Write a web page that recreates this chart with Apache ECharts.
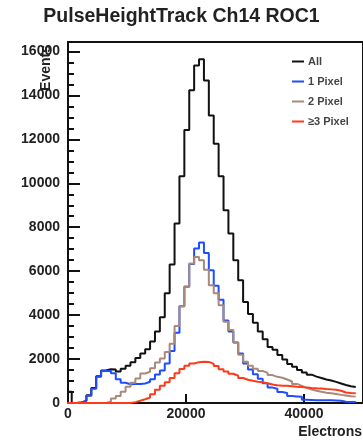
<!DOCTYPE html>
<html><head><meta charset="utf-8">
<script src="https://cdn.jsdelivr.net/npm/echarts@6/dist/echarts.min.js"></script>
<style>html,body{margin:0;padding:0;background:#fff;}#c{width:363px;height:441px;}</style>
</head><body><div id="c"></div>
<script>
// ---- data ----
const titleText = 'PulseHeightTrack Ch14 ROC1';
const xTitle = 'Electrons';
const yTitle = 'Events';
const seriesNames = ['All', '1 Pixel', '2 Pixel', '\u22653 Pixel'];
const binStart = -200;      // electrons, left edge of first bin
const binWidth = 830;       // electrons per bin
const xMin = 0, xMax = 50000, xStep = 20000;
const yMin = 0, yMax = 16430, yStep = 2000, yMinorStep = 500;

const allCounts = [510, 0, 20, 110, 350, 680, 1220, 1480, 1540, 1530,
  1430, 1560, 1700, 1850, 2050, 2250, 2450, 2800, 3250, 3900,
  5000, 6300, 8170, 10320, 12420, 14230, 15360, 15650, 14680, 13090,
  11800, 10320, 8770, 7710, 6500, 5590, 4600, 4050, 3650, 3250,
  2900, 2550, 2420, 2180, 1980, 1780, 1650, 1500, 1390, 1290,
  1200, 1140, 1070, 1020, 960, 890, 820, 760, 730];
const onePixel = [0, 0, 20, 90, 330, 650, 1200, 1460, 1460, 1350,
  1080, 920, 850, 860, 870, 890, 970, 1080, 1300, 1480,
  1800, 2370, 3200, 4400, 5290, 6330, 7030, 7300, 6830, 6045,
  5340, 4700, 3750, 3250, 2750, 2250, 1800, 1520, 1310, 1100,
  900, 700, 650, 500, 460, 320, 300, 280, 150, 140,
  130, 130, 120, 120, 110, 100, 60, 50, 40];
const twoPixel = [0, 0, 0, 0, 0, 0, 0, 0, 60, 200,
  320, 515, 740, 920, 1120, 1340, 1420, 1576, 1840, 2030,
  2320, 2700, 3500, 4400, 5300, 6350, 6650, 6500, 6060, 5360,
  4990, 4450, 3700, 3320, 2750, 2200, 1880, 1700, 1560, 1460,
  1370, 1270, 1190, 1150, 1070, 980, 870, 780, 690, 610,
  560, 510, 470, 440, 410, 370, 340, 310, 290];
const threePixel = [0, 0, 0, 0, 0, 0, 0, 0, 0, 0,
  0, 0, 0, 40, 100, 170, 250, 400, 600, 780,
  950, 1140, 1350, 1550, 1700, 1800, 1860, 1880, 1870, 1780,
  1680, 1540, 1430, 1330, 1240, 1140, 1060, 1010, 970, 940,
  900, 840, 810, 790, 780, 760, 740, 730, 700, 680,
  670, 665, 640, 620, 600, 560, 480, 450, 440];

const colors = ['#111111', '#1f4cff', '#a8897a', '#ff3a1a'];
const font = '"Liberation Sans", Arial, Helvetica, sans-serif';

function toSteps(counts) {
  const pts = counts.map((v, i) => [binStart + i * binWidth, v]);
  pts.push([binStart + counts.length * binWidth, counts[counts.length - 1]]);
  return pts;
}
const plain = v => String(Math.round(v));
const dataSets = [allCounts, onePixel, twoPixel, threePixel];

const chart = echarts.init(document.getElementById('c'), null, {renderer: 'canvas'});
chart.setOption({
  animation: false,
  backgroundColor: '#ffffff',
  title: {
    text: titleText, left: 'center', top: 7, padding: 0,
    textStyle: {fontFamily: font, fontWeight: 'bold', fontSize: 19.5, color: '#222'}
  },
  legend: {
    orient: 'vertical', left: 292, top: 56, itemGap: 9, padding: 0,
    itemWidth: 12, itemHeight: 2, icon: 'rect',
    textStyle: {fontFamily: font, fontWeight: 'bold', fontSize: 11, color: '#444', padding: [0, 0, 0, -1]},
    data: seriesNames
  },
  grid: {
    left: 68, top: 42, bottom: 38, right: -11,
    show: true, borderColor: '#111', borderWidth: 2, backgroundColor: 'transparent'
  },
  xAxis: {
    type: 'value', min: xMin, max: xMax, interval: xStep,
    axisLine: {show: true, onZero: false, lineStyle: {color: '#111', width: 2}},
    axisTick: {show: true, inside: true, length: 9, lineStyle: {color: '#111', width: 2}},
    axisLabel: {fontFamily: font, fontWeight: 'bold', fontSize: 14, color: '#222', margin: 4,
      showMaxLabel: false, formatter: plain},
    splitLine: {show: false}
  },
  yAxis: [{
    type: 'value', min: yMin, max: yMax, interval: yStep, position: 'left',
    axisLine: {show: true, onZero: false, lineStyle: {color: '#111', width: 2}},
    axisTick: {show: true, inside: true, length: 12, lineStyle: {color: '#111', width: 2}},
    axisLabel: {fontFamily: font, fontWeight: 'bold', fontSize: 14, color: '#222', margin: 8,
      showMaxLabel: false, formatter: plain},
    splitLine: {show: false}
  }, {
    type: 'value', min: yMin, max: yMax, interval: yMinorStep, position: 'left', offset: 0,
    axisLine: {show: false},
    axisTick: {show: true, inside: true, length: 6, lineStyle: {color: '#111', width: 2}},
    axisLabel: {show: false},
    splitLine: {show: false}
  }],
  graphic: [{
    type: 'text', x: 46, y: 68, rotation: Math.PI / 2, z: 10,
    style: {text: yTitle, fontFamily: font, fontWeight: 'bold', fontSize: 14, fill: '#222',
      textAlign: 'center', textVerticalAlign: 'middle'}
  }, {
    type: 'text', x: 362, y: 432, z: 10,
    style: {text: xTitle, fontFamily: font, fontWeight: 'bold', fontSize: 14, fill: '#222',
      textAlign: 'right', textVerticalAlign: 'middle'}
  }],
  series: dataSets.map((d, i) => ({
    name: seriesNames[i], type: 'line', step: 'end', symbol: 'none',
    yAxisIndex: 0, color: colors[i], z: 2 + i,
    lineStyle: {color: colors[i], width: 2},
    data: toSteps(d)
  }))
});
</script></body></html>
